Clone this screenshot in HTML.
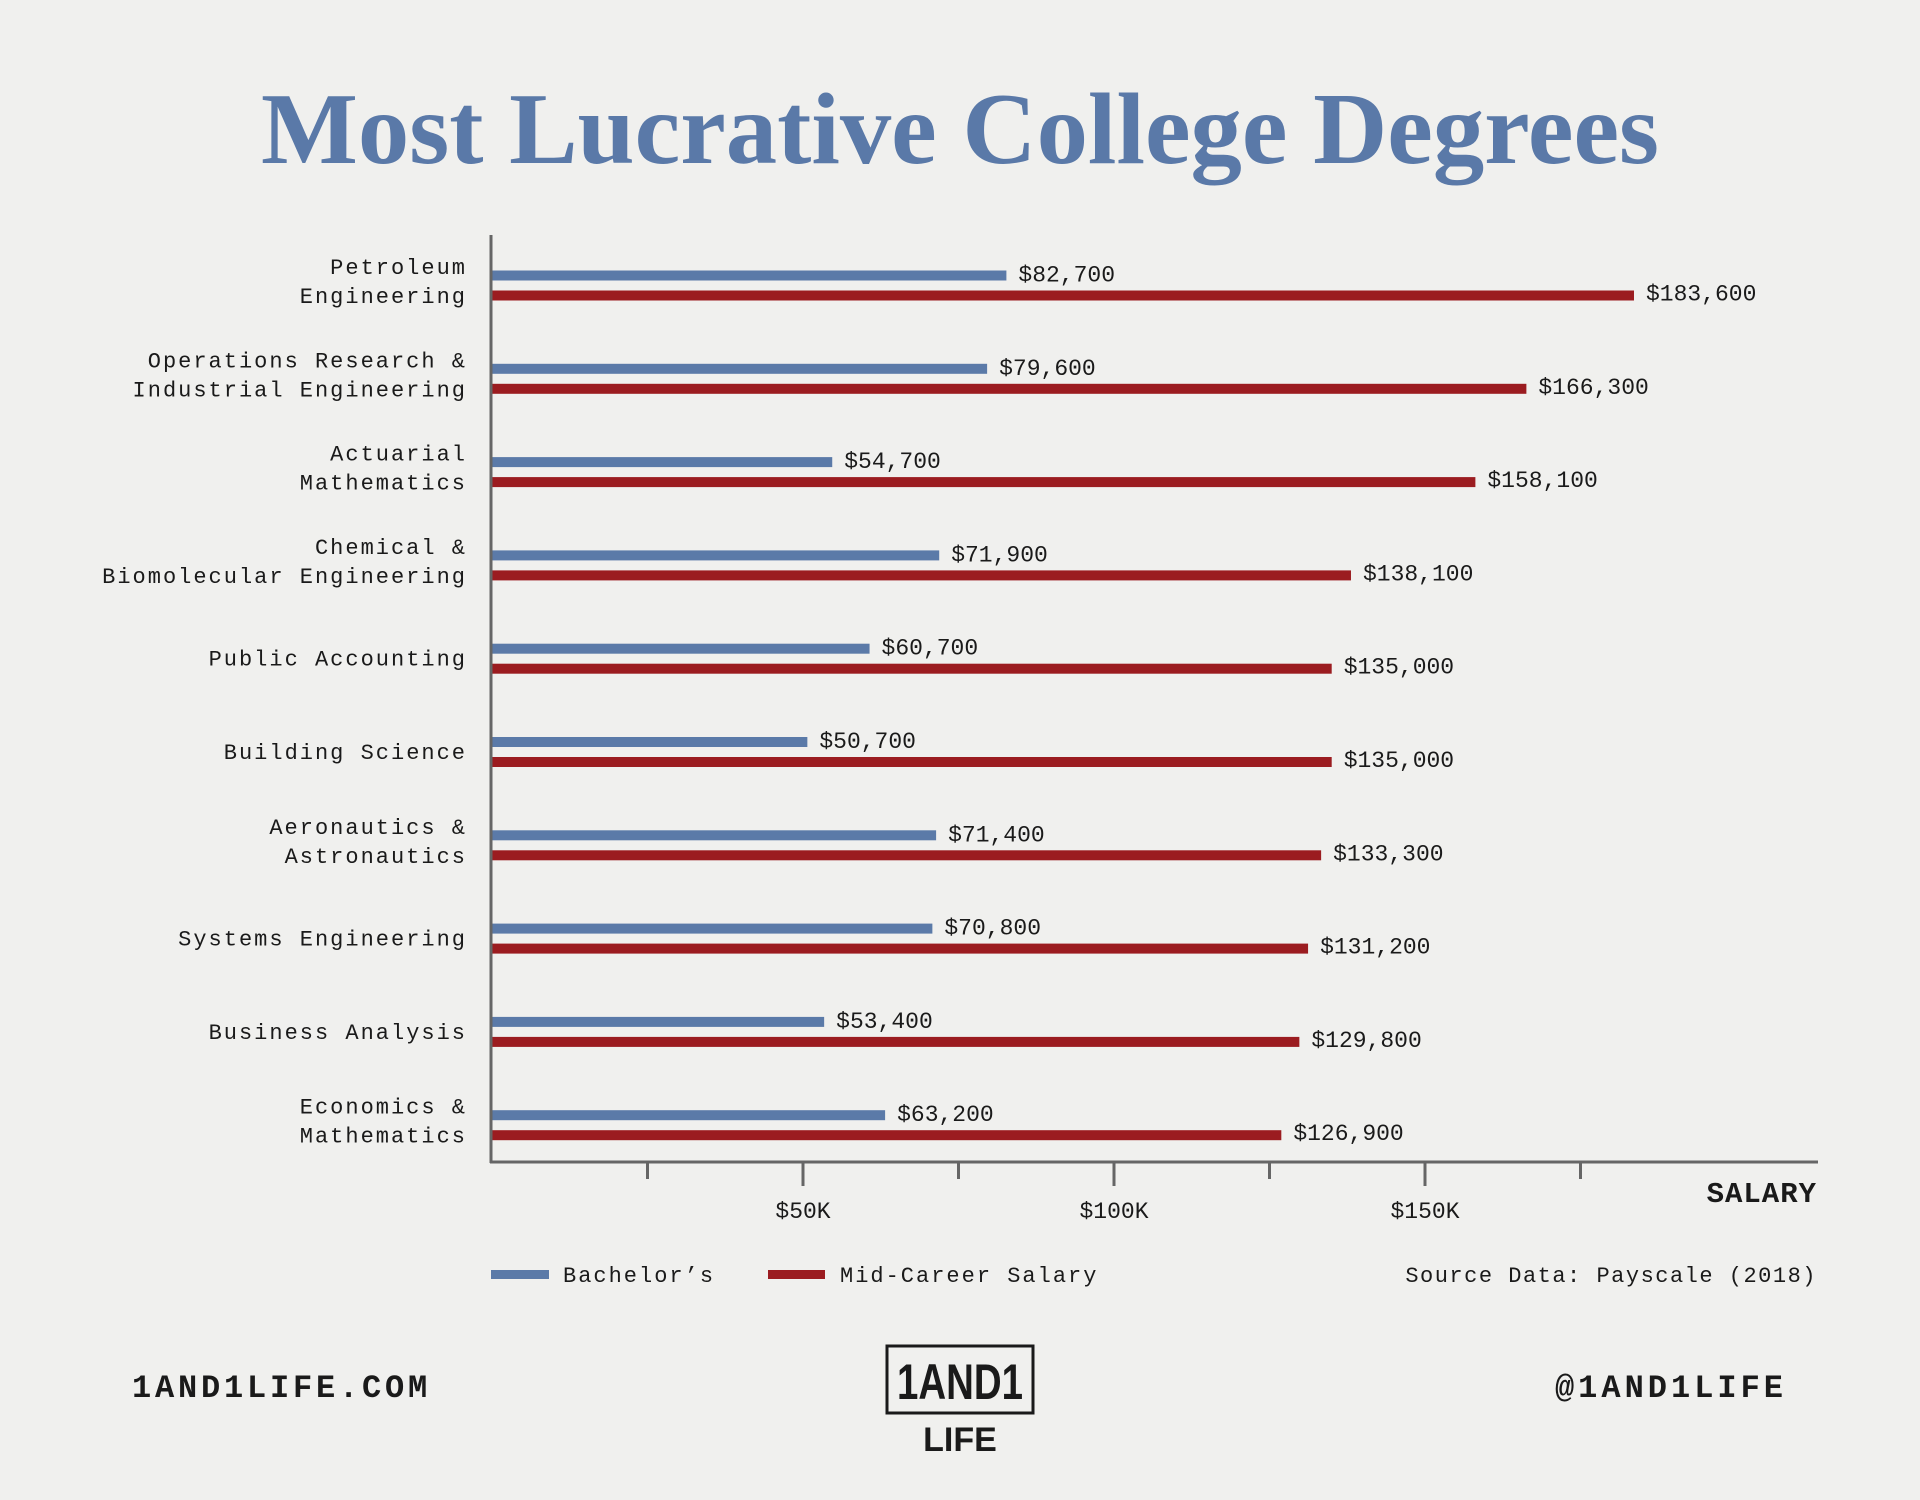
<!DOCTYPE html>
<html><head><meta charset="utf-8"><style>
html,body{margin:0;padding:0;background:#f0f0ee;}
svg{display:block}
text{font-family:"Liberation Mono",monospace;fill:#1a1a1a}
</style></head><body>
<svg id="chart" width="1920" height="1500" viewBox="0 0 1920 1500">
<rect width="1920" height="1500" fill="#f0f0ee"/>
<text x="960" y="163" text-anchor="middle" style="font-family:'Liberation Serif',serif;font-weight:bold;font-size:102px;fill:#5a79a8" textLength="1398" lengthAdjust="spacingAndGlyphs">Most Lucrative College Degrees</text>
<g id="plot"></g>
<g>
<rect x="491" y="1270" width="58" height="9" fill="#5b7aa8"/>
<text x="563" y="1282" font-size="22" letter-spacing="2">Bachelor’s</text>
<rect x="768" y="1270" width="57" height="9" fill="#9b1c20"/>
<text x="840" y="1282" font-size="22" letter-spacing="2">Mid-Career Salary</text>
</g>
<text x="1817" y="1282" font-size="22" letter-spacing="1.5" text-anchor="end">Source Data: Payscale (2018)</text>
<text x="132" y="1397" font-size="32" font-weight="bold" letter-spacing="3.8">1AND1LIFE.COM</text>
<text x="1787" y="1397" font-size="32" font-weight="bold" letter-spacing="4" text-anchor="end">@1AND1LIFE</text>
<g>
<rect x="887" y="1346" width="146" height="67" fill="none" stroke="#1a1a1a" stroke-width="3"/>
<text x="960" y="1399" text-anchor="middle" style="font-family:'Liberation Sans',sans-serif;font-weight:bold;font-size:50px" textLength="126" lengthAdjust="spacingAndGlyphs">1AND1</text>
<text x="960" y="1451" text-anchor="middle" style="font-family:'Liberation Sans',sans-serif;font-weight:bold;font-size:34px">LIFE</text>
</g>
</svg>
<script>
const categories = [["Petroleum","Engineering"],["Operations Research &","Industrial Engineering"],["Actuarial","Mathematics"],["Chemical &","Biomolecular Engineering"],["Public Accounting"],["Building Science"],["Aeronautics &","Astronautics"],["Systems Engineering"],["Business Analysis"],["Economics &","Mathematics"]];
const bachelors = [82700,79600,54700,71900,60700,50700,71400,70800,53400,63200];
const midCareer = [183600,166300,158100,138100,135000,135000,133300,131200,129800,126900];
const tickValues = [25000,50000,75000,100000,125000,150000,175000];
const tickLabels = ["","$50K","","$100K","","$150K",""];

const NS="http://www.w3.org/2000/svg";
const plot=document.getElementById('plot');
const x0=492, pxPer=311/50000;
const xs=v=>x0+v*pxPer;
const yTop=285.5, step=93.3;
const yGroup=i=>yTop+i*step;
function mk(tag,attrs,parent){const e=document.createElementNS(NS,tag);for(const k in attrs)e.setAttribute(k,attrs[k]);(parent||plot).appendChild(e);return e;}
const fmt=v=>'$'+v.toLocaleString('en-US');

categories.forEach((lines,i)=>{
  const cy=yGroup(i);
  const b=mk('rect',{x:x0,y:cy-15,width:xs(bachelors[i])-x0,height:10,fill:'#5b7aa8'});
  
  
  const r=mk('rect',{x:x0,y:cy+5,width:xs(midCareer[i])-x0,height:10,fill:'#9b1c20'});
  
  
  const bl=mk('text',{x:xs(bachelors[i])+12,y:cy-4,'font-size':23});
  bl.textContent=fmt(bachelors[i]);
  
  
  const rl=mk('text',{x:xs(midCareer[i])+12,y:cy+15,'font-size':23});
  rl.textContent=fmt(midCareer[i]);
  
  
  const n=lines.length;
  lines.forEach((ln,j)=>{
    const t=mk('text',{x:467,y:cy+(n>1?3:7)+(j-(n-1)/2)*29,'font-size':22,'letter-spacing':2,'text-anchor':'end'});
    t.textContent=ln;
    
    
  });
});
const ya=mk('line',{x1:491,y1:235,x2:491,y2:1163,stroke:'#666',"stroke-width":3});


const xa=mk('line',{x1:490,y1:1162,x2:1818,y2:1162,stroke:'#666',"stroke-width":3});


tickValues.forEach((v,i)=>{
  const major=tickLabels[i]!=="";
  const tk=mk('line',{x1:xs(v),y1:1162,x2:xs(v),y2:major?1186:1179,stroke:'#666',"stroke-width":3});
  
  
  if(major){
    const tl=mk('text',{x:xs(v),y:1218,'font-size':23,'text-anchor':'middle'});
    tl.textContent=tickLabels[i];
    
    
  }
});
const at=mk('text',{x:1817,y:1202,'font-size':29,'font-weight':'bold','letter-spacing':1,'text-anchor':'end'});
at.textContent='SALARY';


</script>
</body></html>
